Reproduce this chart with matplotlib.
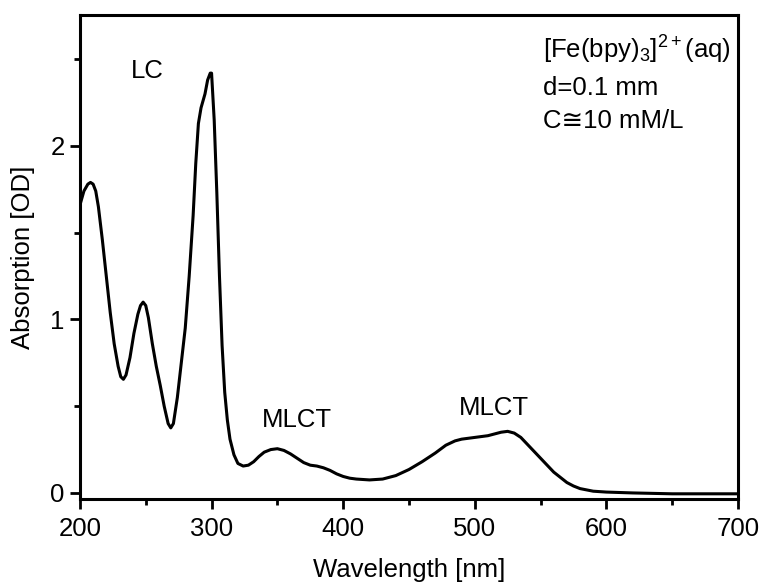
import matplotlib
matplotlib.use("Agg")
import matplotlib.pyplot as plt
from matplotlib.ticker import MultipleLocator

plt.rcParams['font.family'] = ['Liberation Sans', 'DejaVu Sans']
plt.rcParams['mathtext.fontset'] = 'custom'
plt.rcParams['mathtext.rm'] = 'Liberation Sans'
plt.rcParams['mathtext.it'] = 'Liberation Sans'

wavelength = [200, 203, 206, 208, 210, 212, 214, 217, 220, 223, 226, 229, 231, 233, 235, 238,
              241, 244, 246, 248, 250, 252, 255, 258, 261, 264, 267, 269, 271, 274, 277,
              280, 283, 286, 288, 290, 292, 295, 297, 299, 300, 302, 304, 306, 308,
              310, 312, 314, 317, 320, 324, 328, 332, 336, 340, 345, 350, 355, 360,
              365, 370, 375, 380, 385, 390, 395, 400, 405, 410, 420, 430, 440, 450,
              460, 470, 478, 485, 490, 500, 510, 515, 520, 525, 530, 535, 540, 545,
              550, 555, 560, 565, 570, 575, 580, 590, 600, 620, 650, 700]
absorbance = [1.66, 1.74, 1.78, 1.79, 1.78, 1.74, 1.65, 1.46, 1.25, 1.04, 0.86, 0.73, 0.67, 0.655, 0.68, 0.78,
              0.92, 1.03, 1.08, 1.10, 1.08, 1.01, 0.86, 0.73, 0.62, 0.50, 0.40, 0.375, 0.40, 0.55, 0.75,
              0.95, 1.25, 1.60, 1.90, 2.13, 2.22, 2.30, 2.38, 2.42, 2.42, 2.15, 1.73, 1.25, 0.85,
              0.58, 0.42, 0.31, 0.22, 0.17, 0.155, 0.16, 0.18, 0.21, 0.235, 0.25, 0.255, 0.245, 0.225,
              0.20, 0.175, 0.16, 0.155, 0.145, 0.13, 0.11, 0.095, 0.085, 0.08, 0.075, 0.08, 0.10, 0.135,
              0.18, 0.23, 0.275, 0.30, 0.31, 0.32, 0.33, 0.34, 0.35, 0.355, 0.345, 0.32, 0.28, 0.24,
              0.20, 0.16, 0.12, 0.09, 0.06, 0.04, 0.025, 0.01, 0.005, 0.0, -0.005, -0.005]

annotations = ["LC", "MLCT", "MLCT"]
annot_x = [239, 338, 488]
annot_y = [2.43, 0.42, 0.49]
info_lines = [r"[Fe(bpy)$_3$]$^{2+}$(aq)", "d=0.1 mm", "C\u224510 mM/L"]

FS = 18.5

fig = plt.figure(figsize=(7.63, 5.82), dpi=100)
ax = fig.add_axes([0.1048, 0.1426, 0.8624, 0.8316])
ax.plot(wavelength, absorbance, color='black', lw=2.2, solid_joinstyle='round')

ax.set_xlim(200, 700)
ax.set_ylim(-0.035, 2.755)
ax.xaxis.set_major_locator(MultipleLocator(100))
ax.xaxis.set_minor_locator(MultipleLocator(50))
ax.yaxis.set_major_locator(MultipleLocator(1))
ax.yaxis.set_minor_locator(MultipleLocator(0.5))
ax.tick_params(which='major', direction='out', length=7, width=2, labelsize=FS, pad=4)
ax.tick_params(axis='x', which='major', pad=6)
ax.tick_params(which='minor', direction='out', length=4.5, width=2)
for s in ax.spines.values():
    s.set_linewidth(2.2)

ax.set_xlabel("Wavelength [nm]", fontsize=FS, labelpad=12)
ax.set_ylabel("Absorption [OD]", fontsize=FS, labelpad=11)

for t, x, y in zip(annotations, annot_x, annot_y):
    ax.text(x, y, t, fontsize=FS, ha='left', va='center')

ys = [0.928, 0.849, 0.781]
for t, y in zip(info_lines, ys):
    ax.text(0.704, y, t, transform=ax.transAxes, fontsize=FS, ha='left', va='center')

fig.savefig("out.png", dpi=100)
